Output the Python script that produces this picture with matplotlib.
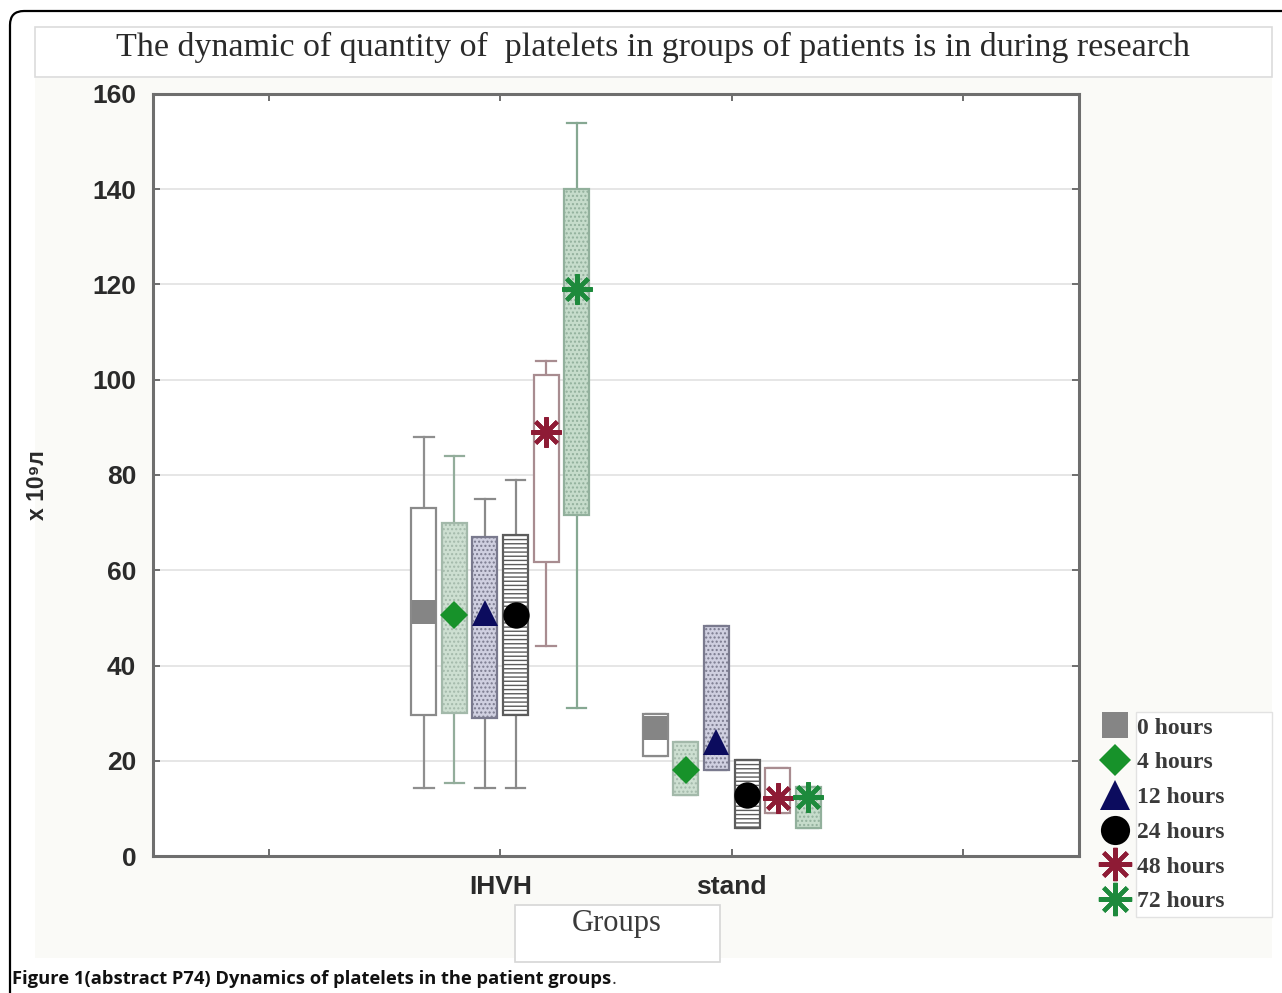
import matplotlib
matplotlib.use("Agg")
import matplotlib.pyplot as plt
from matplotlib.patches import FancyBboxPatch, Rectangle
from matplotlib.lines import Line2D
from matplotlib.transforms import IdentityTransform

# ---- data -------------------------------------------------------------
groups = ["IHVH", "stand"]
hours = ["0 hours", "4 hours", "12 hours", "24 hours", "48 hours", "72 hours"]

# one row per time point, values for [IHVH, stand]
centre = [[51.3, 26.9], [50.5, 18.0], [51.0, 24.0], [50.6, 12.8], [89.0, 12.2], [119.0, 12.4]]
box_hi = [[73.0, 29.8], [70.0, 24.0], [67.0, 48.3], [67.4, 20.2], [101.0, 18.5], [140.0, 14.5]]
box_lo = [[29.6, 21.0], [30.0, 12.8], [29.0, 18.0], [29.6, 5.9], [61.7, 9.0], [71.6, 5.9]]
whisk_hi = [[88.0, 29.8], [84.0, 24.0], [75.0, 48.3], [79.0, 20.2], [104.0, 18.5], [154.0, 14.5]]
whisk_lo = [[14.3, 21.0], [15.3, 12.8], [14.3, 18.0], [14.3, 5.9], [44.0, 9.0], [31.0, 5.9]]

y_ticks = [0, 20, 40, 60, 80, 100, 120, 140, 160]
x_ticklabels = ["", "IHVH", "stand", ""]

# ---- styles -----------------------------------------------------------
face = ["white", "#cddfd1", "#cfcfe0", "white", "white", "#c6dccb"]
hatch = [None, "....", "....", "----", None, "...."]
edge = ["#8a8a8a", "#a3b9aa", "#7a7a8e", "#5c5c5c", "#a88c90", "#92b09c"]
whisk_col = ["#8f8f8f", "#93ad9b", "#8a8a8a", "#8a8a8a", "#a88c90", "#86a892"]
mk = ["s", "D", "^", "o", (8, 2, 0), (8, 2, 0)]
mk_col = ["#858585", "#17922a", "#0c0c5e", "#000000", "#8e1b35", "#1d8a3c"]
mk_size = [17, 14, 19, 19, 22, 22]
mk_ew = [0, 0, 0, 0, 3, 3]

W, H, DPI = 1282, 993, 100
plt.rcParams["hatch.linewidth"] = 1.0
fig = plt.figure(figsize=(W / DPI, H / DPI), dpi=DPI)
fig.patch.set_facecolor("white")


def px_rect(x0, y0, x1, y1, **kw):
    """Rectangle given in pixel coords measured from the top-left corner."""
    return Rectangle((x0, H - y1), x1 - x0, y1 - y0, transform=IdentityTransform(), **kw)


# outer rounded frame
fig.patches.append(FancyBboxPatch((10, -40), 1320, H - 11 + 40,
                                  boxstyle="round,pad=0,rounding_size=14",
                                  transform=IdentityTransform(), fill=False,
                                  edgecolor="black", linewidth=1.6, zorder=-1))
# chart panel and title strip
fig.patches.append(px_rect(35, 78, 1272, 958, facecolor="#fafaf7", edgecolor="none", zorder=-2))
fig.patches.append(px_rect(35, 27, 1272, 77, facecolor="white", edgecolor="#dcdcdc",
                           linewidth=1.2, zorder=-1))
fig.patches.append(px_rect(515, 905, 720, 962, facecolor="white", edgecolor="#d6d6d6",
                           linewidth=1.2, zorder=-1))
fig.patches.append(px_rect(1136, 712, 1272, 917, facecolor="white", edgecolor="#e2e2e2",
                           linewidth=1.0, zorder=-1))

ax = fig.add_axes([153 / W, 1 - 856 / H, 926 / W, 762 / H])
ax.set_zorder(2)
ax.set_facecolor("white")

step = 0.132
box_w = 0.108
for i in range(len(hours)):
    off = (i - 2.5) * step
    positions = [g + 1 + off for g in range(len(groups))]
    stats = []
    for g in range(len(groups)):
        stats.append(dict(med=centre[i][g], q1=box_lo[i][g], q3=box_hi[i][g],
                          whislo=whisk_lo[i][g], whishi=whisk_hi[i][g], fliers=[]))
    res = ax.bxp(stats, positions=positions, widths=box_w, capwidths=0.085,
                 patch_artist=True, showfliers=False, manage_ticks=False,
                 boxprops=dict(facecolor=face[i], edgecolor=edge[i], linewidth=1.6),
                 whiskerprops=dict(color=whisk_col[i], linewidth=1.6),
                 capprops=dict(color=whisk_col[i], linewidth=1.6),
                 medianprops=dict(linewidth=0))
    for b in res["boxes"]:
        b.set_zorder(3)
        if hatch[i]:
            b.set_hatch(hatch[i])
    ax.plot(positions, centre[i], linestyle="none", marker=mk[i], color=mk_col[i],
            markersize=mk_size[i], markeredgewidth=mk_ew[i], zorder=5)

ax.set_xlim(-0.5, 3.5)
ax.set_ylim(0, 160)
ax.set_xticks(range(4))
ax.set_xticklabels(x_ticklabels)
ax.set_yticks(y_ticks)
ax.grid(axis="y", color="#e2e2e2", linewidth=1.2)
ax.set_axisbelow(True)
for s in ax.spines.values():
    s.set_color("#6e6e6e")
    s.set_linewidth(2.2)
ax.tick_params(direction="in", length=5, width=1.4, color="#6e6e6e",
               top=True, right=True)
ax.tick_params(axis="y", pad=12)
ax.tick_params(axis="x", pad=14)
for lab in ax.get_xticklabels() + ax.get_yticklabels():
    lab.set_fontfamily("Liberation Sans")
    lab.set_fontweight("bold")
    lab.set_fontsize(19)
    lab.set_color("#2a2a2a")

fig.text(617 / W, 1 - 923 / H, "Groups", ha="center", va="center",
         family="Liberation Serif", fontsize=22, color="#3a3a3a")
fig.text(37 / W, 1 - 485 / H, "x 10\u2079\u043b", rotation=90, ha="center", va="center",
         family="Liberation Sans", fontweight="bold", fontsize=16.5, color="#2a2a2a")
fig.text(653 / W, 1 - 47 / H,
         "The dynamic of quantity of  platelets in groups of patients is in during research",
         ha="center", va="center", family="Liberation Serif", fontsize=24.5, color="#2a2a2a")

handles = [Line2D([], [], linestyle="none", marker=mk[i], color=mk_col[i],
                  markersize=mk_size[i] + 2, markeredgewidth=mk_ew[i]) for i in range(len(hours))]
fig.legend(handles, hours, loc="upper left", bbox_to_anchor=(1103 / W, 1 - 717 / H),
           frameon=False, prop=dict(family="Liberation Serif", size=17, weight="bold"),
           labelcolor="#3a3a3a", handlelength=1.0, handletextpad=0.45,
           labelspacing=0.56, borderpad=0, borderaxespad=0)

cap = fig.text(12 / W, 1 - 979 / H,
               "Figure 1(abstract P74) Dynamics of platelets in the patient groups",
               ha="left", va="center", family="Open Sans", fontweight="bold", fontsize=13.2,
               color="#111111")
fig.canvas.draw()
bb = cap.get_window_extent()
fig.text(bb.x1 / W, 1 - 979 / H, ".", ha="left", va="center", family="Open Sans",
         fontsize=13.2, color="#333333")

fig.savefig("out.png", dpi=DPI)
